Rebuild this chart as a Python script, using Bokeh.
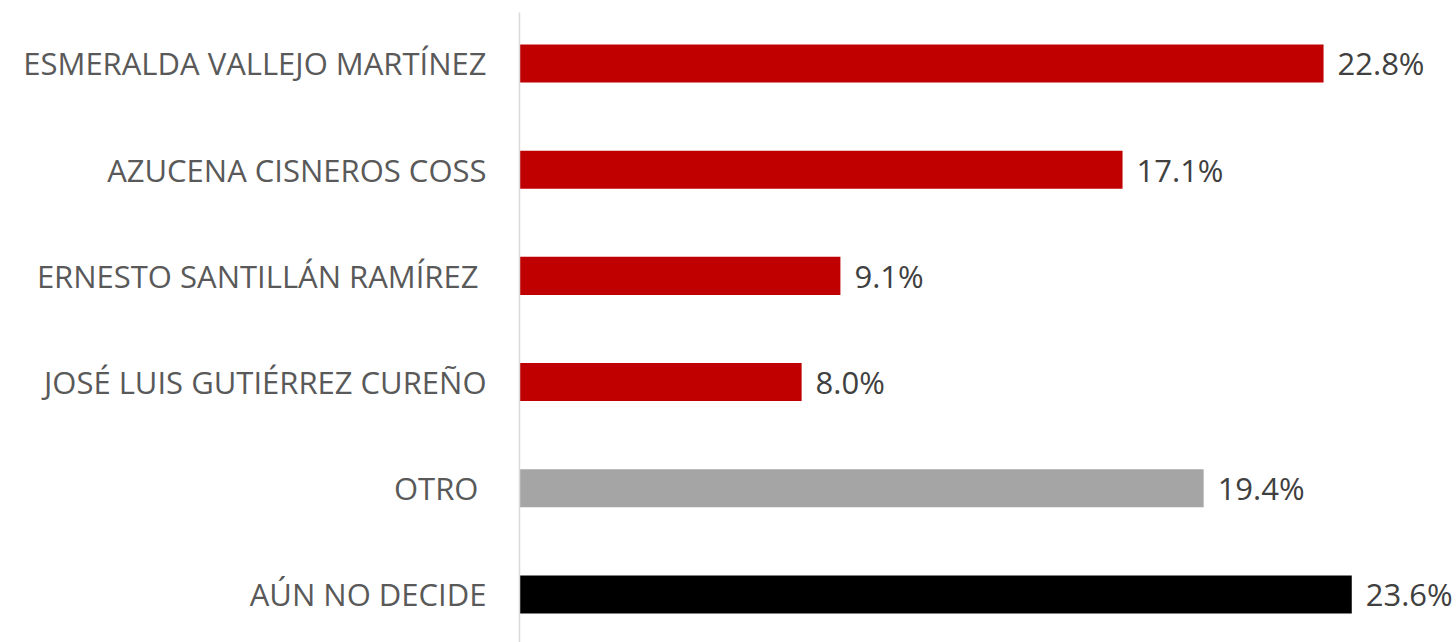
from bokeh.plotting import figure
from bokeh.models import ColumnDataSource, Range1d, FixedTicker
from bokeh.core.properties import value
from bokeh.embed import file_html
from bokeh.resources import INLINE

candidates = ["ESMERALDA VALLEJO MARTÍNEZ", "AZUCENA CISNEROS COSS", "ERNESTO SANTILLÁN RAMÍREZ ",
              "JOSÉ LUIS GUTIÉRREZ CUREÑO", "OTRO ", "AÚN NO DECIDE"]
percent = [22.8, 17.1, 9.1, 8.0, 19.4, 23.6]
colors = ["#C00000", "#C00000", "#C00000", "#C00000", "#A5A5A5", "#000000"]

n = len(candidates)
ypos = [n - 1 - i for i in range(n)]
labels = [f"{v:.1f}%" for v in percent]

src = ColumnDataSource(dict(y=ypos, v=percent, c=colors, lab=labels))

FONT = "Open Sans"
p = figure(width=1456, height=642, output_backend="svg", toolbar_location=None,
           x_range=Range1d(0, 26.57), y_range=Range1d(-0.452, 5.48),
           min_border_left=519, min_border_right=0, min_border_top=12, min_border_bottom=0)
p.outline_line_color = None
p.grid.visible = False
p.xaxis.visible = False
p.background_fill_color = "white"
p.border_fill_color = "white"

p.hbar(y="y", left=0, right="v", height=0.358, fill_color="c", line_color=None, source=src)
p.text(x="v", y="y", text="lab", x_offset=14, text_baseline="middle", text_align="left",
       text_font=value(FONT), text_font_size="31px", text_color="#404040", source=src)

ya = p.yaxis[0]
ya.ticker = FixedTicker(ticks=ypos)
ya.major_label_overrides = {y: c for y, c in zip(ypos, candidates)}
ya.axis_line_color = "#D9D9D9"
ya.axis_line_width = 1.5
ya.major_tick_line_color = None
ya.minor_tick_line_color = None
ya.major_label_standoff = 27
ya.major_label_text_font = FONT
ya.major_label_text_font_size = "31px"
ya.major_label_text_color = "#595959"

open("out.html", "w").write(file_html(p, INLINE))
